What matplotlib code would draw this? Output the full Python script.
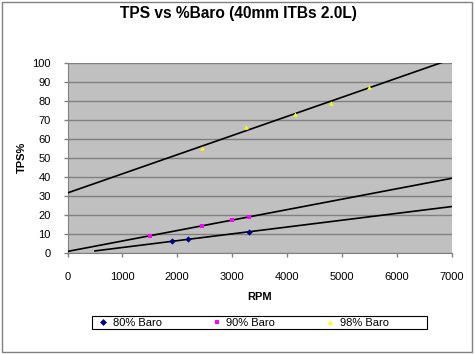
import numpy as np
import matplotlib
matplotlib.use("Agg")
import matplotlib.pyplot as plt
from matplotlib.patches import Rectangle

plt.rcParams['font.family'] = ['Liberation Sans', 'DejaVu Sans']

# data
rpm_80 = [1900, 2200, 3300]
tps_80 = [6, 7, 11]
rpm_90 = [1500, 2450, 3000, 3300]
tps_90 = [9, 14, 17, 19]
rpm_98 = [2450, 3250, 4150, 4800, 5500]
tps_98 = [55, 66, 73, 79, 87]

labels = ['80% Baro', '90% Baro', '98% Baro']
colors = ['#000080', '#FF00FF', '#FFFF00']
markers = ['D', 's', '^']
# trendline extent (backward / forward forecast)
trend_start = [500, 0, 0]
trend_end = 7000

fig = plt.figure(figsize=(4.75, 3.54), dpi=100)
ax = fig.add_axes([67.5 / 475, 1 - 252.7 / 354, 384 / 475, 190 / 354])
ax.set_facecolor('#C0C0C0')

series = [(rpm_80, tps_80), (rpm_90, tps_90), (rpm_98, tps_98)]
for (xs, ys), lab, c, m, x0 in zip(series, labels, colors, markers, trend_start):
    k, b = np.polyfit(xs, ys, 1)
    xt = np.array([x0, trend_end])
    ax.plot(xt, k * xt + b, color='black', lw=1.2, zorder=3)
    ax.plot(xs, ys, ls='none', marker=m, color=c, markersize=3.2,
            markeredgewidth=0, label=lab, zorder=4)

ax.set_xlim(0, 7000)
ax.set_ylim(0, 100)
ax.set_xticks(range(0, 7001, 1000))
ax.set_yticks(range(0, 101, 10))
ax.yaxis.grid(True, color='#808080', lw=1)
ax.set_axisbelow(True)
for s in ['top', 'right']:
    ax.spines[s].set_visible(False)
for s in ['left', 'bottom']:
    ax.spines[s].set_color('#808080')
ax.tick_params(axis='both', labelsize=8, length=3, color='#808080', width=1)
ax.tick_params(axis='x', pad=11)
ax.tick_params(axis='y', pad=9)
ax.set_xlabel('RPM', fontsize=8, fontweight='bold', labelpad=7)
ax.set_ylabel('TPS%', fontsize=8, fontweight='bold', labelpad=4)

fig.text(238 / 475, 1 - 13.5 / 354, 'TPS vs %Baro (40mm ITBs 2.0L)',
         ha='center', va='center', fontsize=11.2, fontweight='bold')

leg = fig.legend(loc='center left', bbox_to_anchor=(97.5 / 475, 1 - 322.5 / 354),
                 ncol=3, fontsize=8, frameon=False, borderpad=0, borderaxespad=0,
                 handlelength=1.0, handletextpad=0.4, columnspacing=4.4,
                 markerscale=1.1)

fig.patches.append(Rectangle((92 / 475, 1 - 329 / 354), 335 / 475, 13 / 354,
                             transform=fig.transFigure, fill=False,
                             edgecolor='black', lw=0.8))
fig.patches.append(Rectangle((2 / 475, 2 / 354), 470 / 475, 350 / 354,
                             transform=fig.transFigure, fill=False,
                             edgecolor='#808080', lw=1))

fig.savefig('out.png', dpi=100)
